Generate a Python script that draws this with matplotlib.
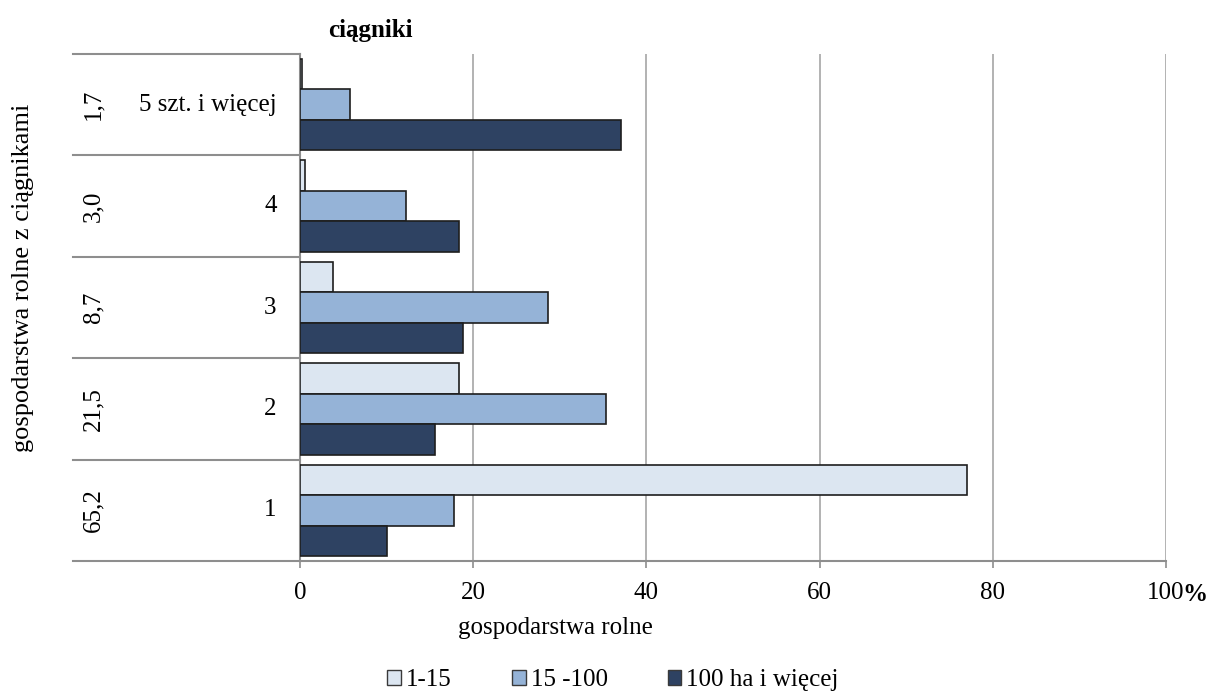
import numpy as np
import matplotlib.pyplot as plt
from matplotlib.patches import Patch
from matplotlib.transforms import blended_transform_factory

################################################################################
# Dane
################################################################################
kategorie = ['1', '2', '3', '4', '5 szt. i więcej']
udzialy = ['65,2', '21,5', '8,7', '3,0', '1,7']
grupy = ['1-15', '15 -100', '100 ha i więcej']

v_1_15 = [77.0, 18.4, 3.8, 0.6, 0.2]
v_15_100 = [17.8, 35.3, 28.6, 12.2, 5.8]
v_100 = [10.0, 15.6, 18.8, 18.4, 37.1]

xticks = [0, 20, 40, 60, 80, 100]
kolory = ['#DCE6F1', '#95B3D7', '#2E4262']

################################################################################
# Wykres
################################################################################
plt.rcParams['font.family'] = ['Liberation Serif', 'DejaVu Serif']
fs = 18
szary = '#8E8E8E'

fig = plt.figure(figsize=(12.16, 6.93), dpi=100)
ax = fig.add_axes([300/1216, 1-561/693, 866/1216, 507/693])

y = np.arange(len(kategorie))
h = 0.3
for off, vals, c in zip([h, 0, -h], [v_1_15, v_15_100, v_100], kolory):
    ax.barh(y + off, vals, height=h, color=c, edgecolor='#1E1E1E',
            linewidth=1.2, zorder=3)

ax.set_xlim(0, 100)
ax.set_ylim(-0.5, len(kategorie) - 0.5)
ax.set_xticks(xticks)
ax.set_xticklabels([str(t) for t in xticks], fontsize=fs)
ax.tick_params(axis='x', direction='out', length=5, width=1.2, color=szary, pad=10)
ax.set_yticks([])
ax.grid(axis='x', color='#A6A6A6', linewidth=1.2, zorder=0)

for s in ['top', 'right']:
    ax.spines[s].set_visible(False)
for s in ['left', 'bottom']:
    ax.spines[s].set_color(szary)
    ax.spines[s].set_linewidth(1.5)

# etykiety kategorii (dwa poziomy)
tr = blended_transform_factory(ax.transAxes, ax.transData)
for i in y:
    ax.text(-0.027, i, kategorie[i], transform=tr, ha='right', va='center', fontsize=fs)
    ax.text(-0.239, i, udzialy[i], transform=tr, ha='center', va='center',
            rotation=90, fontsize=fs)
for b in np.arange(-0.5, len(kategorie), 1.0):
    ax.plot([-0.262, 0], [b, b], transform=tr, color=szary, linewidth=1.5,
            clip_on=False, zorder=1)

# procent przy 100
ax.annotate('%', xy=(100, 0), xycoords=('data', 'axes fraction'),
            xytext=(12, -24), textcoords='offset points', ha='left', va='center',
            fontsize=fs, fontweight='bold')

fig.text(328/1216, 1-30/693, 'ciągniki', ha='left', va='center',
         fontsize=fs, fontweight='bold')
fig.text(555/1216, 1-628/693, 'gospodarstwa rolne', ha='center', va='center', fontsize=fs)
fig.text(23/1216, 1-278/693, 'gospodarstwa rolne z ciągnikami', ha='center',
         va='center', rotation=90, fontsize=fs + 1)

uchwyty = [Patch(facecolor=c, edgecolor='#3A3A3A', linewidth=1) for c in kolory]
fig.legend(uchwyty, grupy, loc='center', bbox_to_anchor=(613/1216, 1-680/693),
           ncol=3, frameon=False, fontsize=fs, handlelength=0.55, handleheight=0.55,
           handletextpad=0.2, columnspacing=2.4)

plt.savefig('out.png', dpi=100)
